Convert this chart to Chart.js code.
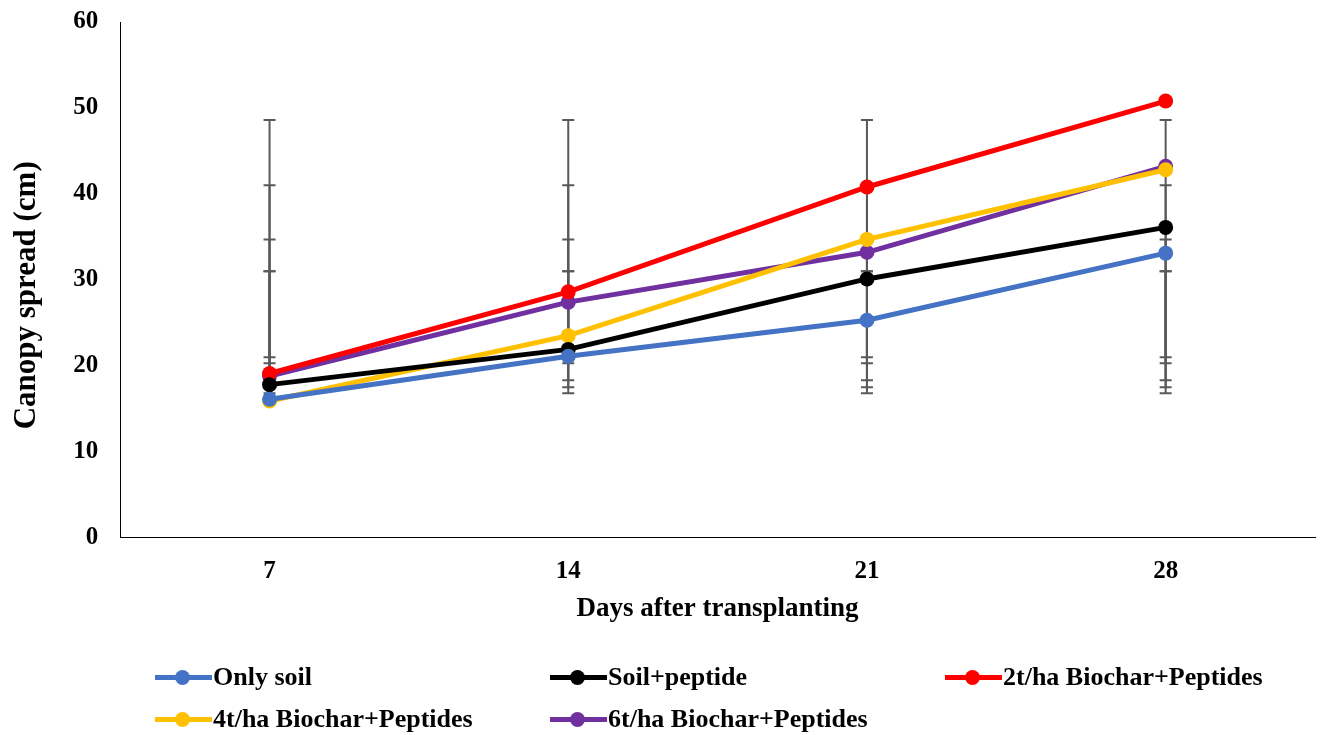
<!DOCTYPE html>
<html>
<head>
<meta charset="utf-8">
<script src="https://cdn.jsdelivr.net/npm/chart.js@4"></script>
<style>
  html, body { margin:0; padding:0; background:#fff; }
  #wrap { position:relative; width:1324px; height:735px; }
  #c { position:absolute; left:0; top:0; }
  #legend { position:absolute; left:155px; top:658px; width:1180px;
    display:grid; grid-template-columns:395px 395px 395px; row-gap:4px;
    font-family:"Liberation Serif","Times New Roman",serif; font-weight:bold; font-size:26px; color:#000; }
  .item { display:flex; align-items:center; height:38px; white-space:nowrap; }
  .sw { position:relative; width:57px; height:15px; margin-right:1px; }
  .sw .ln { position:absolute; left:0; right:0; top:5px; height:5px; }
  .sw .dt { position:absolute; left:20px; top:0; width:15px; height:15px; border-radius:50%; }
</style>
</head>
<body>
<div id="wrap">
  <canvas id="c" width="1324" height="735"></canvas>
  <div id="legend"></div>
</div>
<script>
const categories = ["7", "14", "21", "28"];
const seriesNames = ["Only soil", "Soil+peptide", "2t/ha Biochar+Peptides", "4t/ha Biochar+Peptides", "6t/ha Biochar+Peptides"];
const onlySoil   = [16.1, 21.1, 25.3, 33.1];
const soilPeptide = [17.8, 21.9, 30.1, 36.1];
const biochar2t  = [19.1, 28.6, 40.8, 50.8];
const biochar4t  = [15.9, 23.5, 34.7, 42.8];
const biochar6t  = [18.8, 27.4, 33.2, 43.2];
// error bar extents (same at every day), one pair per series
const errorLow  = [16.8, 17.5, 18.3, 20.3, 21.0];
const errorHigh = [48.6, 41.0, 34.7, 31.0, 31.0];
const yTicks = [0, 10, 20, 30, 40, 50, 60];
const colors = ["#4472C4", "#000000", "#FF0000", "#FFC000", "#7030A0"];

const values = [onlySoil, soilPeptide, biochar2t, biochar4t, biochar6t];
const FONT = '"Liberation Serif","Times New Roman",serif';

const errorBars = {
  id: 'errorBars',
  beforeDatasetsDraw(chart) {
    const ctx = chart.ctx, x = chart.scales.x, y = chart.scales.y;
    ctx.save();
    ctx.strokeStyle = '#595959';
    ctx.lineWidth = 2;
    categories.forEach((c, i) => {
      const px = x.getPixelForValue(i);
      for (let s = 0; s < errorLow.length; s++) {
        const lo = y.getPixelForValue(errorLow[s]);
        const hi = y.getPixelForValue(errorHigh[s]);
        ctx.beginPath();
        ctx.moveTo(px, lo); ctx.lineTo(px, hi);
        ctx.moveTo(px - 6, lo); ctx.lineTo(px + 6, lo);
        ctx.moveTo(px - 6, hi); ctx.lineTo(px + 6, hi);
        ctx.stroke();
      }
    });
    ctx.restore();
  }
};

new Chart(document.getElementById('c'), {
  type: 'line',
  data: {
    labels: categories,
    datasets: values.map((v, i) => ({
      label: seriesNames[i],
      data: v,
      borderColor: colors[i],
      backgroundColor: colors[i],
      borderWidth: 5,
      pointRadius: 7.5,
      pointHoverRadius: 7.5,
      pointBorderWidth: 0,
      tension: 0
    }))
  },
  options: {
    responsive: false,
    animation: false,
    events: [],
    layout: { padding: { left: 0, right: 9, top: 0, bottom: 110 } },
    plugins: { legend: { display: false }, tooltip: { enabled: false } },
    scales: {
      x: {
        offset: true,
        grid: { display: false, drawTicks: false },
        border: { display: true, color: '#000', width: 1 },
        ticks: { color: '#000', font: { family: FONT, size: 25, weight: 'bold' }, padding: 19 },
        title: { display: true, text: 'Days after transplanting', color: '#000',
                 font: { family: FONT, size: 27, weight: 'bold' }, padding: { top: -13, bottom: 0 } }
      },
      y: {
        min: 0, max: 60,
        afterBuildTicks(axis) { axis.ticks = yTicks.map(v => ({ value: v })); },
        afterFit(axis) { axis.paddingTop = 22; },
        grid: { display: false, drawTicks: false },
        border: { display: true, color: '#000', width: 1 },
        ticks: { color: '#000', font: { family: FONT, size: 25, weight: 'bold' }, padding: 22 },
        title: { display: true, text: 'Canopy spread (cm)    ', color: '#000',
                 font: { family: FONT, size: 31, weight: 'bold' }, padding: { top: 8, bottom: 6 } }
      }
    }
  },
  plugins: [errorBars]
});

const leg = document.getElementById('legend');
seriesNames.forEach((n, i) => {
  const it = document.createElement('div');
  it.className = 'item';
  it.innerHTML = '<span class="sw"><span class="ln" style="background:' + colors[i] + '"></span><span class="dt" style="background:' + colors[i] + '"></span></span><span></span>';
  it.lastChild.textContent = n;
  leg.appendChild(it);
});
</script>
</body>
</html>
